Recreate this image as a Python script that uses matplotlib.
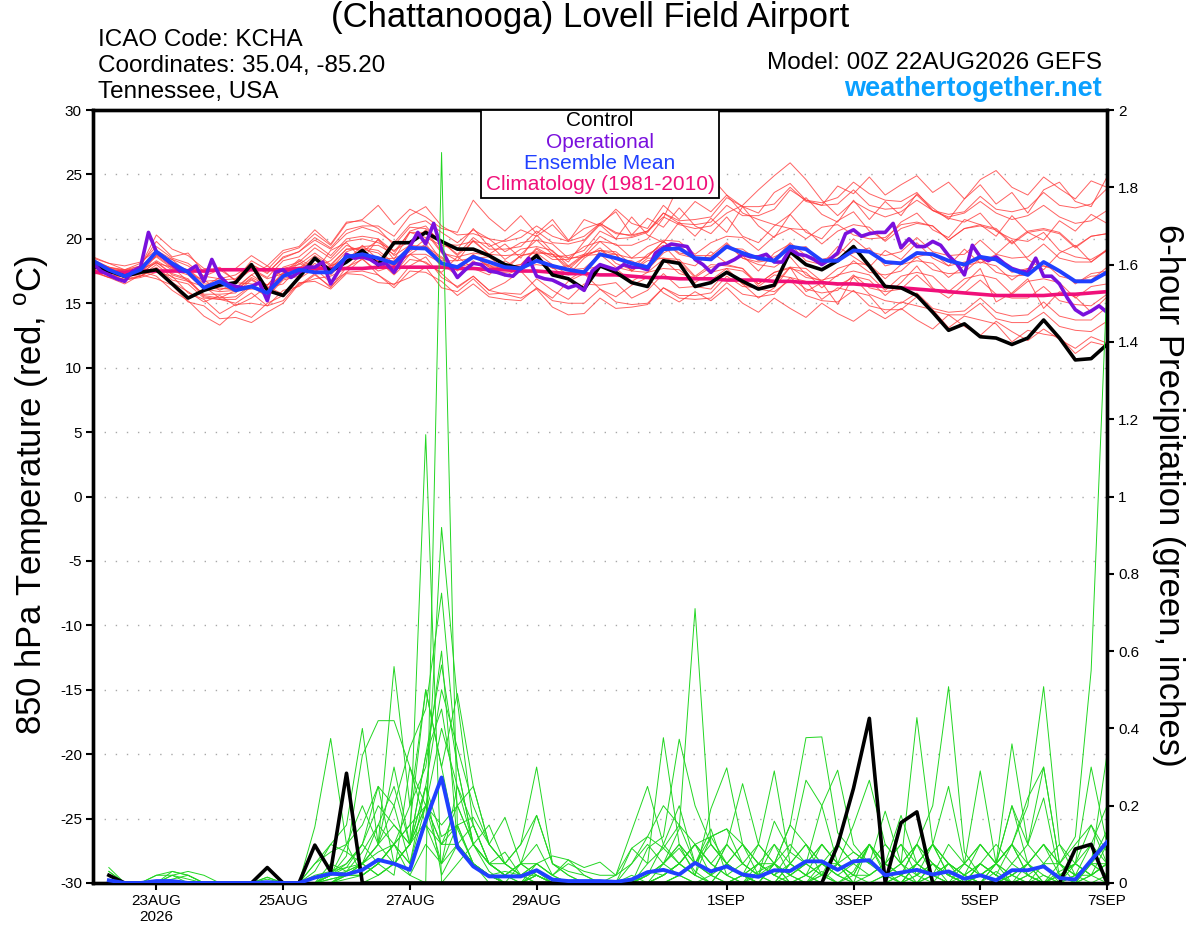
import matplotlib
matplotlib.use('Agg')
import matplotlib.pyplot as plt
import numpy as np
from matplotlib.patches import Rectangle

# ---------------- data ----------------
# forecast hours since 00Z 22AUG2026
temp_hours = list(range(0, 385, 6))            # 65 points (6-hourly)
oper_hours = list(range(0, 385, 3))            # 129 points (3-hourly)
precip_hours = list(range(6, 385, 6))          # 64 points (6-hour totals)

tick_days = [1, 3, 5, 7, 10, 12, 14, 16]
tick_labels = ['23AUG\n2026', '25AUG', '27AUG', '29AUG', '1SEP', '3SEP', '5SEP', '7SEP']

control_temp = [
    17.9, 17.5, 17.1, 17.4, 17.6, 16.5, 15.4, 16.0, 16.4, 16.6, 18.0, 16.0, 15.6,
    17.0, 18.5, 17.5, 18.2, 19.1, 18.0, 19.7, 19.7, 20.5, 19.8, 19.2, 19.2, 18.7,
    18.0, 17.7, 18.7, 17.2, 16.9, 16.1, 17.9, 17.4, 16.6, 16.3, 18.3, 18.1, 16.3,
    16.6, 17.4, 16.7, 16.1, 16.4, 19.0, 18.0, 17.6, 18.3, 19.4, 17.9, 16.3, 16.2,
    15.6, 14.3, 12.9, 13.4, 12.4, 12.3, 11.8, 12.3, 13.7, 12.3, 10.6, 10.7, 11.8]

mean_temp = [
    18.3, 17.6, 17.1, 17.6, 19.0, 18.1, 17.4, 16.2, 16.7, 16.0, 16.3, 15.8, 17.1,
    17.6, 17.4, 17.4, 18.6, 18.8, 18.5, 18.1, 19.3, 19.25, 18.1, 17.8, 18.6, 18.2,
    17.8, 17.7, 18.3, 17.9, 17.6, 17.4, 18.8, 18.5, 18.1, 17.8, 19.2, 19.25, 18.5,
    18.4, 19.4, 18.9, 18.5, 18.3, 19.4, 19.2, 18.3, 18.3, 19.1, 19.0, 18.2, 18.1,
    18.9, 18.8, 18.3, 18.0, 18.6, 18.4, 17.6, 17.2, 18.2, 17.5, 16.7, 16.7, 17.4]

climatology_temp = [
    17.4, 17.4, 17.4, 17.5, 17.5, 17.5, 17.5, 17.5, 17.6, 17.6, 17.6, 17.6, 17.6,
    17.7, 17.7, 17.7, 17.7, 17.7, 17.8, 17.8, 17.8, 17.8, 17.8, 17.7, 17.7, 17.6,
    17.6, 17.5, 17.5, 17.4, 17.3, 17.3, 17.2, 17.2, 17.1, 17.0, 17.0, 16.9, 16.9,
    16.9, 16.8, 16.8, 16.8, 16.7, 16.7, 16.6, 16.6, 16.5, 16.5, 16.4, 16.3, 16.2,
    16.1, 16.0, 15.9, 15.8, 15.7, 15.6, 15.6, 15.6, 15.6, 15.7, 15.7, 15.8, 15.9]

operational_temp = [
    18.1, 17.5, 17.2, 16.9, 16.7, 17.5, 17.8, 20.5, 19.0, 18.5, 18.0, 17.5, 17.5, 17.9, 16.7, 18.4, 17.1, 16.5, 16.3, 16.2, 16.3,
    16.6, 15.2, 17.4, 17.6, 17.0, 17.4, 17.8, 17.8, 18.2, 16.5, 17.5, 18.8, 18.5, 18.6, 18.4, 18.0, 18.1, 17.4, 18.4, 19.4,
    20.5, 19.6, 21.2, 19.2, 18.0, 17.0, 17.6, 18.1, 18.0, 17.5, 17.4, 17.2, 17.1, 17.7, 18.5, 17.1, 16.9, 16.8, 16.5, 16.2,
    16.4, 16.0, 17.5, 18.0, 17.8, 17.6, 18.0, 17.8, 17.8, 17.6, 18.9, 19.3, 19.6, 19.5, 19.4, 18.4, 18.0, 17.4, 18.0, 18.1,
    18.4, 18.8, 18.6, 18.6, 18.8, 18.2, 18.2, 19.2, 18.8, 18.7, 18.4, 18.0, 18.4, 18.9, 20.4, 20.7, 20.2, 20.4, 20.5, 20.5,
    21.2, 19.3, 20.0, 19.4, 19.4, 19.8, 19.5, 18.7, 18.1, 17.2, 19.5, 18.6, 18.3, 18.6, 18.1, 17.7, 17.5, 17.4, 18.5, 17.1,
    17.1, 16.5, 15.4, 14.5, 14.1, 14.4, 14.8, 14.3]

member_temps = [
    [18.0, 17.5, 17.0, 17.9, 18.8, 17.9, 17.4, 16.3, 17.0, 16.1, 17.2, 17.9, 17.1,
     18.3, 17.4, 19.1, 19.7, 18.4, 20.0, 18.7, 19.5, 20.7, 19.0, 18.3, 19.9, 18.8,
     19.6, 18.5, 20.3, 19.0, 18.2, 19.8, 21.1, 20.0, 21.7, 20.3, 19.7, 21.3, 20.2,
     21.6, 20.5, 22.5, 21.0, 20.1, 21.9, 23.2, 21.9, 21.3, 23.0, 21.5, 22.9, 21.8,
     23.5, 22.4, 21.5, 23.1, 24.2, 22.7, 23.6, 22.0, 23.8, 24.4, 22.9, 22.5, 24.8],
    [17.6, 17.3, 16.8, 17.1, 17.7, 16.6, 15.9, 15.1, 15.6, 14.8, 15.4, 16.3, 15.7,
     16.9, 17.7, 16.6, 17.4, 18.5, 17.2, 16.4, 17.9, 18.6, 17.0, 16.3, 17.1, 16.0,
     16.6, 17.5, 16.2, 15.4, 16.7, 17.3, 16.1, 15.5, 16.4, 17.0, 15.8, 15.1, 15.9,
     15.2, 16.2, 15.0, 14.3, 15.4, 14.6, 13.9, 15.0, 14.2, 13.6, 14.5, 13.8, 14.6,
     13.7, 13.0, 14.1, 13.2, 12.5, 13.6, 12.8, 12.1, 13.0, 12.2, 11.5, 12.4, 11.9],
    [18.3, 17.7, 17.4, 17.5, 17.1, 16.0, 15.2, 14.0, 13.3, 14.4, 13.9, 15.0, 15.6,
     16.4, 17.3, 16.2, 17.8, 18.4, 17.5, 17.9, 18.8, 18.1, 17.4, 18.6, 17.7, 17.2,
     18.3, 17.6, 18.9, 18.0, 17.2, 18.5, 19.3, 18.1, 17.6, 18.8, 19.5, 18.2, 17.9,
     19.0, 18.1, 18.7, 17.5, 18.9, 19.6, 18.3, 18.0, 19.4, 18.6, 17.8, 19.1, 18.4,
     19.7, 18.5, 17.9, 19.2, 18.1, 18.8, 19.9, 18.4, 17.6, 18.9, 19.5, 18.2, 19.1],
    [18.5, 18.1, 17.6, 18.1, 19.4, 18.5, 18.1, 17.1, 17.6, 16.8, 18.3, 17.6, 18.9,
     19.3, 20.4, 19.5, 21.2, 21.5, 22.6, 21.1, 22.3, 21.7, 20.8, 20.5, 23.0, 21.6,
     20.6, 21.8, 20.4, 21.5, 19.9, 20.8, 21.2, 22.1, 20.3, 21.6, 20.9, 22.4, 21.0,
     20.4, 21.7, 20.2, 19.7, 21.0, 21.9, 20.5, 20.0, 21.4, 22.1, 20.6, 19.9, 21.3,
     22.0, 20.7, 20.1, 21.5, 21.1, 20.2, 21.8, 20.5, 19.9, 21.4, 20.6, 21.9, 21.2],
    [17.8, 17.5, 17.1, 17.3, 18.7, 18.4, 17.3, 16.8, 16.0, 16.6, 16.5, 16.4, 17.1,
     18.1, 17.5, 17.9, 18.5, 19.1, 18.2, 18.3, 19.2, 19.4, 17.8, 17.8, 18.8, 17.9,
     17.9, 17.5, 18.6, 17.8, 17.9, 17.2, 19.1, 18.4, 18.3, 17.6, 18.9, 19.5, 18.4,
     18.6, 19.3, 19.2, 18.3, 18.6, 19.2, 19.4, 18.1, 18.5, 18.9, 19.3, 17.9, 18.2,
     18.6, 18.9, 17.9, 18.2, 18.4, 18.5, 17.4, 17.7, 17.9, 17.5, 16.6, 17.1, 17.2],
    [18.1, 17.6, 17.5, 17.9, 19.8, 18.6, 18.9, 17.4, 17.8, 16.7, 17.6, 16.9, 17.3,
     18.4, 17.8, 18.3, 19.5, 19.0, 19.9, 18.4, 20.5, 20.1, 19.5, 19.2, 20.8, 19.4,
     19.9, 20.7, 20.2, 21.1, 19.8, 21.5, 21.0, 22.3, 21.2, 20.8, 22.6, 21.5, 22.9,
     22.1, 23.4, 22.5, 22.0, 23.6, 24.3, 23.0, 22.6, 24.1, 23.5, 24.8, 23.4, 24.2,
     24.9, 23.6, 24.4, 23.1, 24.6, 25.3, 24.0, 23.4, 24.8, 23.9, 23.1, 24.5, 24.0],
    [17.5, 17.0, 16.8, 17.0, 17.4, 17.1, 15.8, 15.3, 14.2, 14.9, 15.0, 14.8, 15.2,
     16.6, 16.7, 16.1, 17.3, 17.2, 16.6, 16.5, 17.0, 17.8, 16.2, 15.9, 16.9, 15.7,
     15.8, 15.7, 16.9, 16.0, 15.3, 16.5, 16.4, 16.6, 15.4, 16.0, 17.3, 16.2, 16.3,
     16.1, 17.5, 16.5, 15.4, 16.2, 17.8, 15.9, 16.6, 14.9, 17.1, 16.8, 15.6, 16.6,
     17.9, 16.2, 15.4, 16.5, 17.7, 15.1, 15.8, 16.9, 14.6, 15.9, 15.5, 14.3, 15.5],
    [18.2, 17.8, 17.0, 17.7, 18.1, 17.8, 16.7, 16.3, 15.4, 16.0, 16.1, 16.2, 16.5,
     17.8, 17.8, 17.9, 18.3, 19.5, 18.4, 18.5, 19.0, 20.0, 18.3, 18.3, 18.5, 18.6,
     17.6, 18.7, 18.9, 18.8, 17.6, 18.7, 18.8, 18.8, 17.5, 18.5, 18.5, 18.4, 17.1,
     18.0, 17.9, 17.7, 16.3, 17.2, 17.0, 16.7, 15.3, 16.2, 15.9, 15.6, 14.2, 15.1,
     14.8, 14.5, 13.1, 14.0, 13.7, 13.4, 12.0, 12.9, 12.6, 12.4, 11.1, 12.0, 11.7],
    [17.7, 17.2, 17.0, 17.3, 18.2, 17.3, 16.9, 15.6, 15.4, 15.5, 16.4, 15.6, 16.9,
     17.3, 18.4, 17.7, 19.0, 19.4, 19.5, 18.8, 20.6, 21.0, 19.6, 19.5, 19.8, 19.6,
     18.4, 19.2, 19.4, 19.1, 17.9, 18.8, 19.1, 18.8, 17.5, 18.3, 18.5, 18.2, 17.0,
     17.8, 18.0, 17.7, 16.5, 17.4, 17.7, 17.4, 16.2, 17.2, 17.5, 17.2, 16.0, 17.1,
     17.4, 17.1, 15.9, 16.9, 17.2, 16.9, 15.7, 16.7, 16.9, 16.6, 15.4, 16.3, 16.5],
    [18.4, 17.8, 17.5, 17.7, 18.6, 17.7, 17.4, 16.3, 16.2, 16.0, 16.9, 16.1, 17.4,
     17.7, 18.7, 17.9, 19.2, 19.3, 19.1, 18.1, 19.5, 19.4, 18.6, 17.6, 18.7, 17.8,
     17.8, 18.0, 19.2, 18.4, 18.4, 18.8, 20.2, 19.5, 19.5, 20.0, 21.6, 24.2, 25.1,
     24.8, 23.4, 22.0, 21.5, 21.1, 20.8, 20.0, 20.9, 21.1, 20.3, 20.0, 20.1, 21.1,
     21.3, 21.0, 19.9, 20.8, 21.0, 20.7, 19.6, 20.5, 20.7, 20.4, 19.3, 20.2, 20.4],
    [17.9, 17.4, 17.2, 17.1, 18.0, 17.0, 16.7, 15.7, 15.7, 15.8, 16.8, 16.1, 17.3,
     17.6, 18.5, 17.6, 18.7, 18.7, 18.3, 17.2, 18.4, 18.2, 17.3, 16.2, 17.1, 16.0,
     15.7, 15.4, 16.1, 14.7, 14.1, 14.2, 15.4, 14.6, 14.7, 14.9, 16.2, 15.6, 15.6,
     15.8, 17.1, 16.3, 16.2, 16.5, 17.8, 17.0, 16.8, 17.1, 18.3, 17.4, 17.2, 17.5,
     18.6, 17.6, 17.3, 17.4, 18.5, 17.4, 17.1, 17.2, 18.2, 17.1, 16.8, 16.8, 17.8],
    [18.6, 18.1, 17.9, 18.2, 19.1, 18.4, 17.9, 17.1, 16.9, 17.2, 18.0, 17.4, 18.5,
     19.0, 19.9, 19.2, 20.4, 20.9, 20.5, 19.7, 21.1, 21.4, 20.5, 19.7, 20.7, 20.0,
     19.8, 20.1, 21.0, 20.2, 19.8, 20.2, 21.2, 20.5, 20.2, 20.6, 21.7, 21.1, 20.8,
     21.0, 22.0, 22.6, 23.8, 24.9, 25.9, 24.6, 23.0, 21.8, 22.9, 22.2, 21.7, 22.1,
     23.0, 22.2, 21.7, 22.0, 22.9, 22.0, 21.5, 21.8, 22.6, 21.7, 21.2, 21.4, 22.2],
    [17.4, 17.0, 16.5, 17.2, 16.9, 16.4, 15.1, 14.8, 13.8, 13.9, 13.5, 14.3, 15.0,
     16.5, 16.9, 17.1, 17.7, 18.8, 18.0, 18.0, 18.8, 19.6, 18.1, 17.8, 18.1, 18.0,
     17.1, 17.8, 18.0, 17.8, 16.8, 17.6, 17.9, 17.7, 16.7, 17.4, 17.7, 17.6, 16.6,
     17.4, 17.7, 17.5, 16.5, 17.4, 17.8, 17.7, 16.7, 17.7, 18.1, 18.0, 16.9, 18.0,
     18.3, 18.1, 17.0, 17.9, 18.2, 17.9, 16.8, 17.7, 17.9, 17.6, 16.5, 17.3, 17.5],
    [18.0, 17.5, 17.3, 17.6, 18.9, 17.9, 17.5, 16.2, 16.1, 16.2, 17.2, 16.4, 17.8,
     18.2, 19.3, 18.5, 19.8, 20.0, 19.7, 19.1, 19.8, 20.5, 18.9, 18.6, 18.9, 18.7,
     17.8, 18.7, 19.0, 18.8, 17.8, 18.7, 19.1, 19.0, 18.0, 18.6, 19.8, 18.9, 18.7,
     18.7, 19.7, 18.5, 18.0, 17.8, 18.6, 17.2, 16.7, 16.4, 17.0, 15.7, 15.2, 15.0,
     15.8, 14.6, 14.3, 14.4, 15.4, 14.3, 14.0, 14.1, 15.1, 14.0, 13.7, 13.7, 14.7],
    [17.6, 17.2, 17.1, 17.5, 18.3, 17.6, 17.2, 16.1, 15.9, 16.0, 17.0, 16.4, 17.7,
     18.0, 18.9, 18.0, 19.2, 19.2, 18.9, 17.9, 19.3, 19.2, 18.5, 17.5, 18.7, 17.8,
     17.8, 18.0, 19.3, 18.6, 18.7, 19.1, 20.6, 20.0, 20.1, 20.5, 22.0, 21.4, 21.5,
     21.7, 23.2, 22.5, 22.5, 22.7, 24.0, 22.9, 22.6, 22.7, 23.8, 22.6, 22.3, 22.4,
     23.4, 22.2, 21.9, 22.1, 23.3, 22.3, 22.1, 22.4, 23.6, 22.6, 22.4, 22.7, 23.9],
    [18.3, 17.8, 17.6, 17.9, 20.3, 19.2, 18.7, 17.7, 17.6, 17.7, 18.7, 17.9, 19.1,
     19.4, 20.7, 19.6, 21.3, 21.4, 20.8, 19.5, 20.9, 20.8, 19.8, 18.7, 19.8, 18.8,
     18.7, 18.8, 19.9, 18.8, 18.5, 18.6, 19.8, 18.8, 18.5, 18.6, 19.8, 18.8, 18.5,
     18.5, 19.6, 18.5, 18.2, 18.4, 19.7, 18.7, 18.4, 18.7, 20.0, 19.0, 18.7, 19.0,
     20.1, 19.0, 18.7, 18.8, 19.9, 18.8, 18.5, 18.6, 19.6, 18.5, 18.2, 18.2, 19.2],
    [17.5, 17.0, 16.9, 17.1, 17.8, 16.8, 16.5, 15.4, 15.3, 15.0, 15.8, 14.8, 16.0,
     16.3, 17.2, 16.3, 17.4, 17.5, 17.2, 16.2, 17.5, 17.4, 16.7, 15.6, 16.5, 15.5,
     15.3, 15.2, 16.2, 15.2, 15.0, 15.0, 16.1, 15.1, 14.9, 15.0, 16.2, 15.4, 15.3,
     15.4, 16.6, 15.7, 15.5, 15.7, 17.0, 16.1, 15.8, 16.0, 17.2, 16.2, 15.9, 16.1,
     17.2, 16.1, 15.8, 15.8, 16.8, 15.7, 15.4, 15.4, 16.3, 15.2, 14.9, 14.8, 15.7],
    [18.1, 17.6, 17.5, 17.7, 19.0, 18.0, 17.6, 16.5, 16.5, 16.6, 17.7, 17.0, 18.3,
     18.6, 19.6, 18.7, 20.0, 20.2, 20.0, 19.0, 20.5, 20.5, 19.8, 18.8, 20.1, 19.2,
     19.2, 19.4, 20.6, 19.7, 19.6, 19.9, 21.2, 20.4, 20.3, 20.6, 22.0, 21.2, 21.1,
     21.3, 22.6, 21.8, 21.8, 22.3, 23.8, 23.0, 22.8, 23.2, 24.4, 23.5, 23.0, 22.9,
     23.6, 22.2, 21.6, 21.3, 22.0, 20.6, 20.0, 19.8, 20.5, 19.1, 18.6, 18.4, 19.1],
    [17.8, 17.3, 17.3, 17.3, 18.2, 17.2, 16.8, 15.5, 15.3, 15.3, 16.3, 15.5, 16.8,
     17.1, 18.1, 17.2, 18.4, 18.6, 18.3, 17.3, 18.8, 18.8, 18.1, 17.1, 18.3, 17.4,
     17.4, 17.5, 18.6, 17.7, 17.6, 17.7, 18.8, 17.8, 17.5, 17.4, 18.4, 17.3, 17.0,
     16.8, 17.7, 16.5, 16.1, 15.9, 16.8, 15.6, 15.2, 15.1, 16.0, 14.8, 14.5, 14.5,
     15.5, 14.4, 14.1, 14.1, 15.0, 13.8, 13.5, 13.5, 14.3, 13.2, 12.9, 12.8, 13.6],
    [18.2, 17.7, 17.6, 17.6, 18.7, 17.8, 17.6, 16.7, 16.8, 16.9, 18.0, 17.3, 18.6,
     19.0, 20.1, 19.3, 20.7, 21.0, 21.0, 20.2, 21.8, 22.5, 21.0, 20.3, 20.4, 20.0,
     19.0, 19.7, 19.9, 19.6, 18.5, 19.4, 19.8, 19.6, 18.5, 19.4, 19.9, 19.8, 18.8,
     19.7, 20.2, 20.1, 19.1, 20.2, 20.8, 20.7, 19.6, 20.6, 21.1, 20.9, 19.8, 20.8,
     21.2, 21.0, 19.9, 20.8, 21.1, 20.8, 19.7, 20.6, 20.8, 20.5, 19.4, 20.2, 20.4],
]

control_precip = [
    0.02, 0, 0, 0, 0, 0, 0, 0, 0, 0, 0.04, 0, 0, 0.098, 0.03, 0.284,
    0, 0, 0, 0, 0, 0, 0, 0, 0, 0, 0, 0, 0, 0, 0, 0,
    0, 0, 0, 0, 0, 0, 0, 0, 0, 0, 0, 0, 0, 0, 0.098, 0.245,
    0.426, 0, 0.156, 0.184, 0, 0, 0, 0, 0, 0, 0, 0, 0, 0.088, 0.10, 0]

mean_precip = [
    0.007, 0, 0, 0.005, 0.005, 0, 0, 0, 0, 0, 0.002, 0, 0, 0.014, 0.024, 0.022,
    0.034, 0.06, 0.05, 0.034, 0.162, 0.273, 0.093, 0.043, 0.017, 0.017, 0.017, 0.033, 0.009, 0.005, 0.005, 0.005,
    0.003, 0.009, 0.028, 0.034, 0.022, 0.052, 0.030, 0.043, 0.022, 0.016, 0.033, 0.031, 0.056, 0.056, 0.034, 0.056,
    0.059, 0.02, 0.027, 0.034, 0.022, 0.03, 0.011, 0.02, 0.007, 0.033, 0.033, 0.043, 0.013, 0.009, 0.059, 0.106]

member_precips = [
    [0.02, 0, 0, 0, 0.02, 0, 0, 0, 0, 0, 0, 0, 0, 0, 0.02, 0.03,
     0.05, 0.08, 0.1, 0.02, 0.0, 1.89, 0.14, 0.05, 0.02, 0, 0, 0.03, 0, 0, 0, 0,
     0, 0, 0.02, 0.05, 0.09, 0.03, 0, 0, 0.02, 0, 0, 0.05, 0.02, 0, 0, 0.03,
     0.1, 0.03, 0, 0, 0.05, 0.02, 0, 0, 0.03, 0, 0, 0.02, 0, 0, 0.05, 0.02],
    [0.04, 0, 0, 0, 0.03, 0.02, 0, 0, 0, 0, 0.01, 0, 0, 0.05, 0.1, 0.08,
     0.05, 0.02, 0.05, 0.1, 1.16, 0.0, 0.05, 0.1, 0.03, 0, 0.05, 0.02, 0, 0, 0, 0,
     0, 0, 0.03, 0.02, 0.05, 0.1, 0.02, 0, 0, 0.03, 0.05, 0, 0, 0.02, 0.05, 0,
     0, 0, 0.02, 0.1, 0.02, 0, 0, 0.05, 0.02, 0, 0, 0, 0.03, 0.05, 0.02, 0],
    [0, 0, 0, 0, 0, 0, 0, 0, 0, 0, 0, 0, 0, 0, 0.03, 0.05,
     0.1, 0.25, 0.05, 0.1, 0.16, 0.92, 0.47, 0.15, 0.05, 0.02, 0, 0.02, 0, 0, 0, 0,
     0, 0, 0.02, 0.1, 0.2, 0.05, 0.14, 0.02, 0, 0.05, 0.02, 0, 0, 0.05, 0.02, 0,
     0.1, 0.02, 0, 0.02, 0.05, 0, 0, 0.02, 0.05, 0.2, 0.05, 0, 0, 0.02, 0.05, 0.136],
    [0, 0, 0, 0, 0, 0, 0, 0, 0, 0, 0, 0, 0, 0.145, 0.374, 0.1,
     0.02, 0.05, 0.1, 0.2, 0.3, 0.6, 0.1, 0.05, 0.02, 0, 0, 0, 0, 0, 0, 0,
     0.02, 0.135, 0.25, 0.1, 0.05, 0.02, 0, 0, 0.02, 0.05, 0.1, 0.02, 0, 0.03, 0, 0,
     0, 0, 0, 0.05, 0.02, 0, 0.05, 0.02, 0, 0.02, 0.05, 0.1, 0.05, 0, 0, 0.02],
    [0.03, 0, 0, 0, 0, 0, 0, 0, 0, 0, 0, 0, 0, 0.03, 0.1, 0.15,
     0.40, 0.1, 0.56, 0.2, 0.5, 0.3, 0.1, 0.05, 0, 0, 0, 0, 0, 0, 0, 0,
     0, 0, 0.05, 0.376, 0.1, 0.05, 0.02, 0, 0.02, 0, 0.05, 0, 0.02, 0.1, 0.05, 0,
     0, 0.02, 0.05, 0, 0.02, 0, 0.02, 0, 0, 0.05, 0.1, 0.22, 0.02, 0, 0.02, 0.05],
    [0, 0, 0, 0.02, 0.02, 0.01, 0, 0, 0, 0, 0, 0, 0, 0, 0.02, 0.07,
     0.33, 0.42, 0.42, 0.3, 0.2, 0.4, 0.25, 0.1, 0.05, 0.02, 0.05, 0.1, 0.02, 0, 0, 0,
     0, 0, 0.09, 0.12, 0.372, 0.2, 0.1, 0.05, 0.02, 0, 0.05, 0.02, 0, 0, 0, 0,
     0, 0, 0, 0.05, 0.1, 0.05, 0, 0.05, 0.02, 0, 0.02, 0, 0, 0.05, 0.1, 0.05],
    [0, 0, 0, 0, 0, 0, 0, 0, 0, 0, 0, 0, 0, 0.02, 0.03, 0.04,
     0.05, 0.1, 0.15, 0.1, 0.33, 0.564, 0.3, 0.1, 0.05, 0.05, 0.1, 0.30, 0.05, 0.02, 0, 0,
     0, 0.05, 0.1, 0.05, 0.14, 0.71, 0.1, 0.05, 0.02, 0, 0.05, 0.02, 0.05, 0.1, 0.05, 0,
     0, 0, 0.02, 0, 0.05, 0.02, 0, 0.02, 0.05, 0.1, 0.02, 0, 0.05, 0.02, 0, 0],
    [0, 0, 0, 0, 0, 0, 0, 0, 0, 0, 0, 0, 0, 0, 0.01, 0.02,
     0.02, 0.05, 0.1, 0.15, 0.5, 0.3, 0.49, 0.25, 0.1, 0.05, 0.02, 0, 0, 0, 0, 0,
     0, 0.02, 0, 0.05, 0.1, 0.02, 0.192, 0.298, 0.1, 0.02, 0, 0.05, 0.1, 0.02, 0, 0.02,
     0.02, 0.05, 0.1, 0.02, 0, 0.05, 0.02, 0, 0.05, 0.1, 0.02, 0, 0.02, 0.05, 0.3, 0.1],
    [0, 0, 0, 0, 0, 0, 0, 0, 0, 0, 0, 0, 0, 0, 0, 0.02,
     0.05, 0.02, 0.05, 0.1, 0.2, 0.15, 0.2, 0.25, 0.1, 0.17, 0.05, 0.02, 0, 0, 0, 0,
     0, 0, 0, 0.02, 0.05, 0.1, 0.05, 0.02, 0.05, 0.1, 0.05, 0.15, 0.376, 0.378, 0.13, 0.08,
     0.05, 0.02, 0, 0.05, 0.1, 0.02, 0, 0.05, 0.02, 0, 0.05, 0.02, 0, 0.02, 0.05, 0.333],
    [0.02, 0, 0, 0, 0.01, 0.02, 0, 0, 0, 0, 0.015, 0, 0, 0, 0, 0.03,
     0.05, 0.1, 0.2, 0.05, 0.25, 0.12, 0.15, 0.05, 0.02, 0, 0, 0.05, 0.02, 0, 0, 0,
     0, 0, 0.02, 0.05, 0.1, 0.05, 0.02, 0.1, 0.257, 0.1, 0.29, 0.05, 0.02, 0, 0.05, 0.15,
     0.266, 0.1, 0.05, 0.428, 0.1, 0.02, 0, 0.02, 0.05, 0, 0.02, 0.05, 0, 0.02, 0.05, 0.02],
    [0, 0, 0, 0, 0, 0, 0, 0, 0, 0, 0, 0, 0, 0, 0.02, 0.04,
     0.1, 0.05, 0.02, 0.3, 0.15, 0.1, 0.1, 0.05, 0.02, 0, 0, 0.02, 0, 0, 0, 0,
     0, 0, 0, 0.02, 0.05, 0.1, 0.05, 0.02, 0, 0.02, 0.05, 0.1, 0.05, 0.2, 0.292, 0.1,
     0.05, 0.186, 0.05, 0.1, 0.2, 0.508, 0.08, 0.02, 0, 0.02, 0.05, 0, 0.02, 0, 0.05, 0.1],
    [0, 0, 0, 0, 0, 0, 0, 0, 0, 0, 0, 0, 0, 0, 0, 0.01,
     0.02, 0.05, 0.1, 0.05, 0.2, 0.05, 0.25, 0.15, 0.05, 0.02, 0.05, 0.175, 0.05, 0.02, 0, 0,
     0, 0, 0, 0, 0.02, 0.05, 0.02, 0.1, 0.05, 0.02, 0, 0.02, 0.05, 0.1, 0.05, 0.02,
     0.1, 0.05, 0.175, 0.05, 0.02, 0.1, 0.05, 0.29, 0.05, 0.1, 0.2, 0.508, 0.1, 0.02, 0.02, 0.05],
    [0, 0, 0, 0.02, 0.03, 0.02, 0, 0, 0, 0, 0, 0, 0, 0, 0.02, 0.1,
     0.2, 0.1, 0.3, 0.1, 0.33, 0.45, 0.2, 0.1, 0.05, 0.08, 0.02, 0.05, 0.07, 0.06, 0.04, 0.054,
     0.02, 0.09, 0.12, 0.09, 0.15, 0.05, 0.12, 0.14, 0.05, 0.02, 0.16, 0.08, 0.266, 0.2, 0.05, 0.02,
     0.1, 0.05, 0.02, 0.05, 0.1, 0.05, 0.02, 0.1, 0.05, 0.36, 0.1, 0.3, 0.05, 0.1, 0.15, 0.05],
    [0, 0, 0, 0, 0, 0, 0, 0, 0, 0, 0, 0, 0, 0.05, 0.08, 0.1,
     0.15, 0.25, 0.2, 0.35, 0.45, 0.75, 0.3, 0.1, 0.15, 0.05, 0.1, 0.175, 0.05, 0.03, 0.02, 0,
     0, 0, 0, 0, 0.02, 0.05, 0.1, 0.05, 0.02, 0.1, 0.05, 0.02, 0.05, 0.02, 0, 0,
     0, 0.02, 0.05, 0.1, 0.05, 0.02, 0.05, 0.1, 0.05, 0.02, 0.05, 0.1, 0.05, 0.02, 0.1, 0.2],
    [0, 0, 0, 0, 0, 0, 0, 0, 0, 0, 0, 0, 0, 0, 0.02, 0.05,
     0.1, 0.2, 0.15, 0.1, 0.25, 0.5, 0.35, 0.2, 0.1, 0.05, 0.02, 0.02, 0, 0, 0, 0,
     0, 0, 0, 0.02, 0.05, 0.02, 0, 0.05, 0.1, 0.05, 0.02, 0.05, 0.1, 0.05, 0.02, 0.05,
     0.1, 0.05, 0.02, 0.1, 0.05, 0.02, 0.05, 0.1, 0.05, 0.2, 0.1, 0.05, 0.05, 0.12, 0.55, 1.55],
    [0.03, 0, 0, 0, 0.02, 0.03, 0.02, 0, 0, 0, 0.015, 0, 0, 0, 0, 0.02,
     0.05, 0.15, 0.25, 0.1, 0.2, 0.1, 0.15, 0.17, 0.1, 0.05, 0.02, 0.05, 0.02, 0.05, 0.03, 0.02,
     0.02, 0.05, 0.12, 0.2, 0.15, 0.1, 0.12, 0.14, 0.1, 0.05, 0.05, 0.15, 0.1, 0.05, 0.05, 0.08,
     0.05, 0.1, 0.05, 0.02, 0.1, 0.05, 0.02, 0.05, 0.02, 0.1, 0.22, 0.3, 0.05, 0.02, 0.05, 0.05],
    [0, 0, 0, 0, 0, 0, 0, 0, 0, 0, 0, 0, 0, 0, 0, 0,
     0, 0.02, 0.05, 0.1, 0.25, 0.02, 0.1, 0.05, 0.02, 0, 0, 0, 0, 0, 0, 0,
     0, 0, 0, 0, 0.02, 0, 0, 0.05, 0.02, 0, 0, 0, 0, 0.02, 0.05, 0.02,
     0, 0, 0, 0.02, 0.05, 0.02, 0, 0, 0, 0.02, 0, 0, 0, 0, 0.02, 0.05],
    [0.02, 0, 0, 0, 0, 0, 0, 0, 0, 0, 0, 0, 0, 0, 0.05, 0.03,
     0.08, 0.15, 0.1, 0.05, 0.15, 0.05, 0.1, 0.15, 0.05, 0.02, 0.05, 0.05, 0.02, 0.06, 0.02, 0,
     0, 0.09, 0.05, 0.09, 0.05, 0.02, 0.12, 0.05, 0.02, 0.05, 0.02, 0.08, 0.05, 0.02, 0.1, 0.05,
     0.02, 0.05, 0.1, 0.05, 0.02, 0.05, 0.02, 0, 0.05, 0.02, 0, 0.05, 0.1, 0.05, 0.02, 0.1],
    [0, 0, 0, 0, 0, 0, 0, 0, 0, 0, 0, 0, 0, 0, 0, 0.02,
     0.02, 0.05, 0.1, 0.15, 0.2, 0.1, 0.2, 0.1, 0.05, 0.02, 0, 0.02, 0, 0, 0, 0,
     0, 0, 0, 0.02, 0.05, 0.1, 0.05, 0.1, 0.05, 0.02, 0.1, 0.05, 0.02, 0.05, 0.1, 0.05,
     0.1, 0.05, 0.02, 0.05, 0.1, 0.25, 0.05, 0.02, 0.05, 0.1, 0.05, 0.1, 0.02, 0.05, 0.15, 0.08],
    [0, 0, 0, 0, 0, 0, 0, 0, 0, 0, 0, 0, 0, 0, 0.01, 0.02,
     0.05, 0.1, 0.05, 0.02, 0.1, 0.05, 0.15, 0.05, 0.02, 0.03, 0.02, 0, 0, 0, 0, 0,
     0, 0, 0.02, 0.05, 0.02, 0, 0.02, 0.05, 0.1, 0.05, 0.02, 0, 0.02, 0.05, 0.02, 0,
     0.02, 0.05, 0.02, 0, 0.02, 0.05, 0.02, 0.05, 0.1, 0.05, 0.02, 0, 0.02, 0.05, 0.02, 0.05],
]

for k, m in enumerate(member_temps):
    if len(m) != len(temp_hours):
        raise ValueError(f"temp member {k} has {len(m)}")
for k, m in enumerate(member_precips):
    if len(m) != len(precip_hours):
        raise ValueError(f"precip member {k} has {len(m)}")

# ---------------- figure ----------------
plt.rcParams['font.family'] = ['Liberation Sans', 'DejaVu Sans']
plt.rcParams['axes.unicode_minus'] = False

W, H = 1200, 927
fig = plt.figure(figsize=(W / 100, H / 100), dpi=100)
ax = fig.add_axes([93 / W, 44 / H, 1014 / W, 773 / H])

td = np.array(temp_hours) / 24.0
od = np.array(oper_hours) / 24.0
pd_ = np.array(precip_hours) / 24.0

RED = '#ff3b3b'
GREEN = '#22d622'

for m in member_temps:
    ax.plot(td, m, color=RED, lw=0.7, alpha=0.8, zorder=2)
ax.plot(td, climatology_temp, color='#f0107a', lw=2.6, zorder=3)
ax.plot(td, control_temp, color='black', lw=2.6, zorder=4)
ax.plot(od, operational_temp, color='#7a10dd', lw=2.6, zorder=5)
ax.plot(td, mean_temp, color='#2040ff', lw=2.8, zorder=6)

for v in range(-25, 30, 5):
    ax.axhline(v, color='#a8a8a8', lw=1.0, ls=(0, (1, 7)), zorder=1)

ax.set_xlim(0, 16)
ax.set_ylim(-30, 30)
ax.set_yticks(range(-30, 31, 5))
ax.set_xticks(tick_days)
ax.set_xticklabels(tick_labels)
ax.tick_params(axis='both', direction='out', length=5, width=1.5, labelsize=11, pad=3)

ax2 = ax.twinx()
for m in member_precips:
    ax2.plot(pd_, m, color=GREEN, lw=0.7, zorder=2)
ax2.plot(pd_, control_precip, color='black', lw=2.6, zorder=4)
ax2.plot(pd_, mean_precip, color='#2040ff', lw=2.8, zorder=5)
ax2.set_ylim(0, 2)
ax2.set_xlim(0, 16)
ax2.set_yticks(np.round(np.arange(0, 2.01, 0.2), 1))
ax2.set_yticklabels(['%g' % v for v in np.round(np.arange(0, 2.01, 0.2), 1)])
ax2.tick_params(axis='y', direction='out', length=5, width=1.5, labelsize=11, pad=3)

for a in (ax, ax2):
    for s in a.spines.values():
        s.set_linewidth(2.4)

# legend box
ax2.add_patch(Rectangle((0.3826, 0.886), 0.2348, 0.114, transform=ax.transAxes,
                        facecolor='white', edgecolor='black', lw=1.3, zorder=10,
                        clip_on=False))
leg_items = [('Control', 'black'), ('Operational', '#7a10dd'),
             ('Ensemble Mean', '#2040ff'), ('Climatology (1981-2010)', '#f0107a')]
leg_y = [0.9858, 0.9586, 0.9314, 0.903]
for (txt, col), yy in zip(leg_items, leg_y):
    ax2.text(0.5, yy, txt, color=col, fontsize=15, ha='center', va='center',
             transform=ax.transAxes, zorder=11)

# titles and annotations
fig.text(590 / W, 1 - 18 / H, '(Chattanooga) Lovell Field Airport', fontsize=25,
         ha='center', va='center')
fig.text(98 / W, 1 - 40 / H, 'ICAO Code: KCHA', fontsize=17.5, ha='left', va='center')
fig.text(98 / W, 1 - 66 / H, 'Coordinates: 35.04, -85.20', fontsize=17.5, ha='left', va='center')
fig.text(98 / W, 1 - 92 / H, 'Tennessee, USA', fontsize=17.5, ha='left', va='center')
fig.text(1102 / W, 1 - 63 / H, 'Model: 00Z 22AUG2026 GEFS', fontsize=17.5, ha='right', va='center')
fig.text(1102 / W, 1 - 89 / H, 'weathertogether.net', fontsize=19.5, ha='right', va='center',
         color='#0aa0ff', fontweight='bold')

fig.text(32 / W, 1 - 495 / H, '850 hPa Temperature (red, $^{\\mathregular{o}}$C)', fontsize=25,
         rotation=90, ha='center', va='center')
fig.text(1168 / W, 1 - 495 / H, '6-hour Precipitation (green, inches)', fontsize=25,
         rotation=-90, ha='center', va='center')

fig.savefig('out.png', dpi=100)
